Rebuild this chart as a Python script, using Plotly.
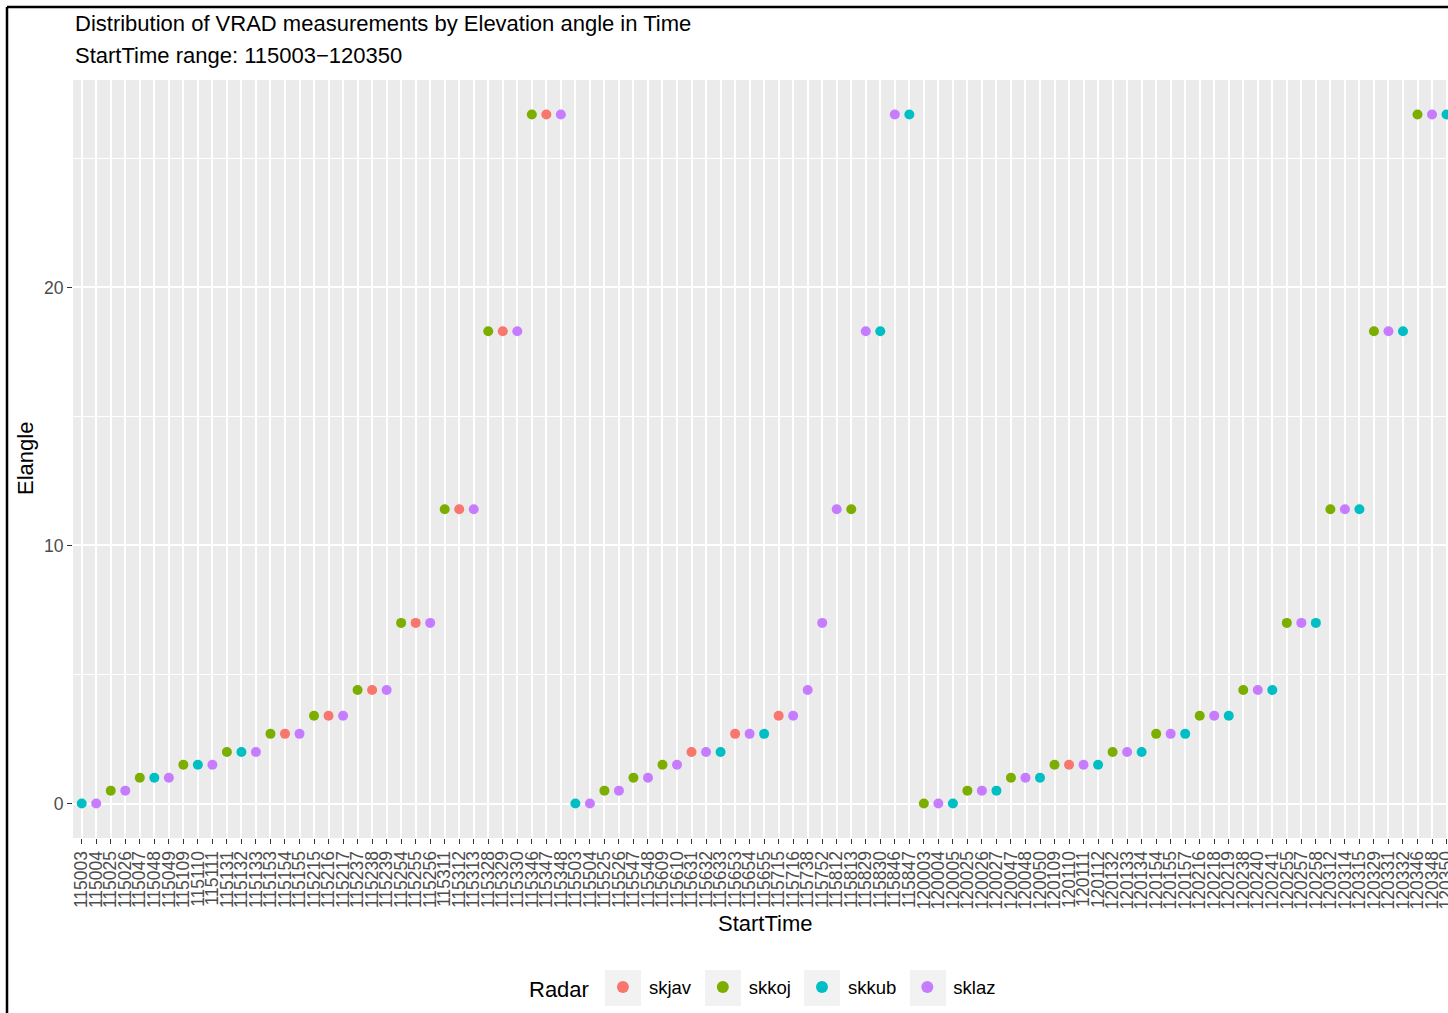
import plotly.graph_objects as go

# ---------------- data ----------------
start_times = [
    "115003", "115004", "115025", "115026", "115047", "115048", "115049",
    "115109", "115110", "115111", "115131", "115132", "115133",
    "115153", "115154", "115155", "115215", "115216", "115217",
    "115237", "115238", "115239", "115254", "115255", "115256",
    "115311", "115312", "115313", "115328", "115329", "115330",
    "115346", "115347", "115348",
    "115503", "115504", "115525", "115526", "115547", "115548",
    "115609", "115610", "115631", "115632", "115633",
    "115653", "115654", "115655", "115715", "115716", "115738", "115752",
    "115812", "115813", "115829", "115830", "115846", "115847",
    "120003", "120004", "120005", "120025", "120026", "120027",
    "120047", "120048", "120050", "120109", "120110", "120111", "120112",
    "120132", "120133", "120134", "120154", "120155", "120157",
    "120216", "120218", "120219", "120238", "120240", "120241",
    "120255", "120257", "120258", "120312", "120314", "120315",
    "120329", "120331", "120332", "120346", "120348", "120350",
]

radars = [
    "skkub", "sklaz", "skkoj", "sklaz", "skkoj", "skkub", "sklaz",
    "skkoj", "skkub", "sklaz", "skkoj", "skkub", "sklaz",
    "skkoj", "skjav", "sklaz", "skkoj", "skjav", "sklaz",
    "skkoj", "skjav", "sklaz", "skkoj", "skjav", "sklaz",
    "skkoj", "skjav", "sklaz", "skkoj", "skjav", "sklaz",
    "skkoj", "skjav", "sklaz",
    "skkub", "sklaz", "skkoj", "sklaz", "skkoj", "sklaz",
    "skkoj", "sklaz", "skjav", "sklaz", "skkub",
    "skjav", "sklaz", "skkub", "skjav", "sklaz", "sklaz", "sklaz",
    "sklaz", "skkoj", "sklaz", "skkub", "sklaz", "skkub",
    "skkoj", "sklaz", "skkub", "skkoj", "sklaz", "skkub",
    "skkoj", "sklaz", "skkub", "skkoj", "skjav", "sklaz", "skkub",
    "skkoj", "sklaz", "skkub", "skkoj", "sklaz", "skkub",
    "skkoj", "sklaz", "skkub", "skkoj", "sklaz", "skkub",
    "skkoj", "sklaz", "skkub", "skkoj", "sklaz", "skkub",
    "skkoj", "sklaz", "skkub", "skkoj", "sklaz", "skkub",
]

elangles = [
    0.0, 0.0, 0.5, 0.5, 1.0, 1.0, 1.0,
    1.5, 1.5, 1.5, 2.0, 2.0, 2.0,
    2.7, 2.7, 2.7, 3.4, 3.4, 3.4,
    4.4, 4.4, 4.4, 7.0, 7.0, 7.0,
    11.4, 11.4, 11.4, 18.3, 18.3, 18.3,
    26.7, 26.7, 26.7,
    0.0, 0.0, 0.5, 0.5, 1.0, 1.0,
    1.5, 1.5, 2.0, 2.0, 2.0,
    2.7, 2.7, 2.7, 3.4, 3.4, 4.4, 7.0,
    11.4, 11.4, 18.3, 18.3, 26.7, 26.7,
    0.0, 0.0, 0.0, 0.5, 0.5, 0.5,
    1.0, 1.0, 1.0, 1.5, 1.5, 1.5, 1.5,
    2.0, 2.0, 2.0, 2.7, 2.7, 2.7,
    3.4, 3.4, 3.4, 4.4, 4.4, 4.4,
    7.0, 7.0, 7.0, 11.4, 11.4, 11.4,
    18.3, 18.3, 18.3, 26.7, 26.7, 26.7,
]

radar_names = ["skjav", "skkoj", "skkub", "sklaz"]
radar_colors = ["#F8766D", "#7CAE00", "#00BFC4", "#C77CFF"]
y_ticks = [0, 10, 20]

# ---------------- figure ----------------
FONT = "Liberation Sans, Arial, sans-serif"
W, H = 1448, 1013
ML, MR, MT, MB = 73, 0, 80, 175
PW, PH = W - ML - MR, H - MT - MB

fig = go.Figure()
for name, col in zip(radar_names, radar_colors):
    xs = [t for t, r in zip(start_times, radars) if r == name]
    ys = [e for e, r in zip(elangles, radars) if r == name]
    fig.add_trace(go.Scatter(
        x=xs, y=ys, mode="markers", name=name,
        marker=dict(color=col, size=10, line=dict(width=0)),
    ))

n = len(start_times)
ymin, ymax = min(elangles), max(elangles)
yr = ymax - ymin

def px_x(p):
    return (p - ML) / PW

def px_y(p):
    return (H - MB - p) / PH

# grey legend key backgrounds (ggplot style)
key_centers = [623, 723, 822, 928]
key_shapes = [
    dict(type="rect", xref="paper", yref="paper", layer="below",
         x0=px_x(c - 18), x1=px_x(c + 18), y0=px_y(1006), y1=px_y(970),
         fillcolor="#F2F2F2", line=dict(width=0))
    for c in key_centers
]

fig.update_layout(
    width=W, height=H,
    margin=dict(l=ML, r=MR, t=MT, b=MB, pad=0, autoexpand=False),
    paper_bgcolor="white",
    plot_bgcolor="#EBEBEB",
    font=dict(family=FONT, color="#000000"),
    showlegend=True,
    legend=dict(
        orientation="h",
        x=px_x(527), xanchor="left",
        y=px_y(988), yanchor="middle",
        title=dict(text="Radar", font=dict(size=22, color="#000000")),
        font=dict(size=18.5, color="#000000"),
        bgcolor="rgba(0,0,0,0)",
        itemwidth=42,
        itemsizing="constant",
    ),
    xaxis=dict(
        type="category",
        categoryorder="array", categoryarray=start_times,
        tickmode="array", tickvals=start_times, ticktext=start_times,
        range=[-0.6, n - 1 + 0.1],
        automargin=False,
        showgrid=True, gridcolor="white", gridwidth=1.6,
        ticks="outside", ticklen=5, tickwidth=1.3, tickcolor="#333333",
        tickangle=-90,
        tickfont=dict(size=17.5, color="#4D4D4D"),
        showline=False, zeroline=False,
    ),
    yaxis=dict(
        range=[ymin - 0.05 * yr, ymax + 0.05 * yr],
        tickvals=y_ticks,
        automargin=False,
        showgrid=True, gridcolor="white", gridwidth=2,
        minor=dict(dtick=5, tick0=0, showgrid=True, gridcolor="white", gridwidth=1, ticks=""),
        ticks="outside", ticklen=5, tickwidth=1.3, tickcolor="#333333",
        tickfont=dict(size=17.6, color="#4D4D4D"),
        showline=False, zeroline=False,
    ),
    annotations=[
        dict(text="Distribution of VRAD measurements by Elevation angle in Time",
             xref="paper", yref="paper", x=0, y=px_y(23), xanchor="left", yanchor="middle",
             showarrow=False, font=dict(size=22, color="#000000")),
        dict(text="StartTime range: 115003\u2212120350",
             xref="paper", yref="paper", x=0, y=px_y(55), xanchor="left", yanchor="middle",
             showarrow=False, font=dict(size=22, color="#000000")),
        dict(text="StartTime",
             xref="paper", yref="paper", x=px_x(765), y=px_y(923), xanchor="center", yanchor="middle",
             showarrow=False, font=dict(size=22, color="#000000")),
        dict(text="Elangle", textangle=-90,
             xref="paper", yref="paper", x=px_x(25), y=0.5, xanchor="center", yanchor="middle",
             showarrow=False, font=dict(size=22, color="#000000")),
    ],
    shapes=[
        dict(type="line", xref="paper", yref="paper", x0=px_x(7), x1=px_x(1460),
             y0=px_y(7), y1=px_y(7), line=dict(color="black", width=2.5)),
        dict(type="line", xref="paper", yref="paper", x0=px_x(7), x1=px_x(7),
             y0=px_y(7), y1=px_y(1020), line=dict(color="black", width=2.5)),
    ] + key_shapes,
)

fig.write_html("out.html",
               config={"displayModeBar": False},
               post_script="document.body.style.margin='0px';")
